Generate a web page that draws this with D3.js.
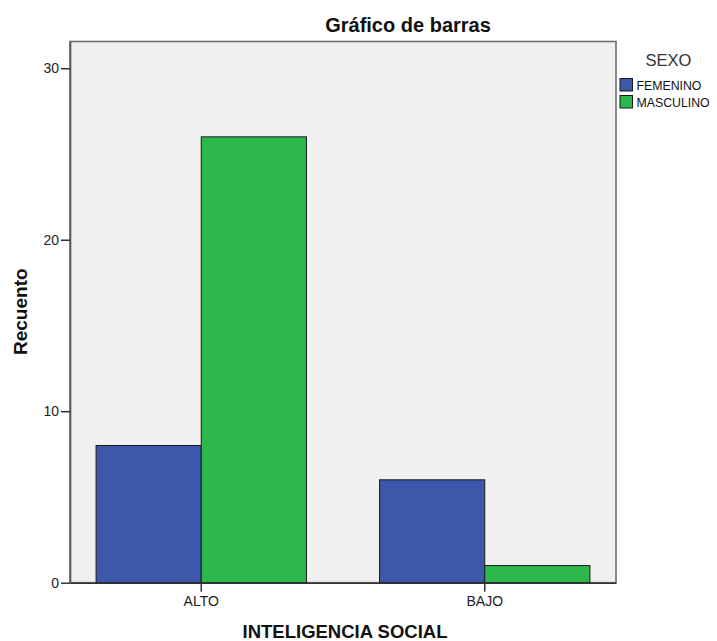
<!DOCTYPE html>
<html><head><meta charset="utf-8">
<script src="https://cdn.jsdelivr.net/npm/d3@7"></script>
<style>body{margin:0;background:#fff;} text{font-family:"Liberation Sans",Arial,sans-serif;}</style>
</head><body>
<svg id="c" width="717" height="641"></svg>
<script>
const categories = ["ALTO", "BAJO"];
const seriesNames = ["FEMENINO", "MASCULINO"];
const femenino = [8, 6];
const masculino = [26, 1];
const yTicks = [0, 10, 20, 30];
const colors = ["#3d57aa", "#2db84b"];

const svg = d3.select("#c");
const L = 70, R = 616, T = 41.5, B = 582.7;
const y = d3.scaleLinear().domain([0, 31.56]).range([B, T]);
const x0 = d3.scaleBand().domain(categories).range([L, R]).paddingInner(0.258).paddingOuter(0.092);
const x1 = d3.scaleBand().domain(seriesNames).range([0, x0.bandwidth()]);

svg.append("rect").attr("x", L).attr("y", T).attr("width", R - L).attr("height", B - T)
  .attr("fill", "#f0f0f0").attr("stroke", "#6e6e6e").attr("stroke-width", 1.6);

const data = categories.map((c, i) => ({cat: c, vals: [femenino[i], masculino[i]]}));
const g = svg.append("g");
data.forEach(d => {
  d.vals.forEach((v, j) => {
    g.append("rect")
      .attr("x", x0(d.cat) + x1(seriesNames[j]))
      .attr("y", y(v))
      .attr("width", x1.bandwidth())
      .attr("height", B - y(v))
      .attr("fill", colors[j])
      .attr("stroke", "#1a1a1a").attr("stroke-width", 1);
  });
});

// Y axis
const ya = svg.append("g").attr("transform", `translate(${L},0)`)
  .call(d3.axisLeft(y).tickValues(yTicks).tickSize(9).tickSizeOuter(0).tickPadding(2));
ya.select(".domain").attr("stroke", "#555").attr("stroke-width", 1.6);
ya.selectAll(".tick line").attr("stroke", "#333").attr("stroke-width", 1.5);
ya.selectAll("text").attr("font-size", 14).attr("fill", "#222").attr("font-family", "Liberation Sans, Arial, sans-serif");

// X axis
const xa = svg.append("g").attr("transform", `translate(0,${B})`)
  .call(d3.axisBottom(x0).tickSize(9).tickSizeOuter(0).tickPadding(4));
xa.select(".domain").attr("stroke", "#333").attr("stroke-width", 1.6);
xa.selectAll(".tick line").attr("stroke", "#333").attr("stroke-width", 1.5);
xa.selectAll("text").attr("font-size", 14).attr("fill", "#222").attr("font-family", "Liberation Sans, Arial, sans-serif");

// Title
svg.append("text").attr("x", 408).attr("y", 31.7).attr("text-anchor", "middle")
  .attr("font-size", 20).attr("font-weight", "bold").attr("fill", "#111").text("Gráfico de barras");
// X label
svg.append("text").attr("x", 345).attr("y", 638.3).attr("text-anchor", "middle")
  .attr("font-size", 18.5).attr("font-weight", "bold").attr("fill", "#111").text("INTELIGENCIA SOCIAL");
// Y label
svg.append("text").attr("transform", "translate(26.7,311.7) rotate(-90)").attr("text-anchor", "middle")
  .attr("font-size", 19).attr("font-weight", "bold").attr("fill", "#111").text("Recuento");

// Legend
const lg = svg.append("g");
lg.append("text").attr("x", 668.5).attr("y", 65.5).attr("text-anchor", "middle")
  .attr("font-size", 16.5).attr("fill", "#333").text("SEXO");
seriesNames.forEach((s, i) => {
  lg.append("rect").attr("x", 620).attr("y", 78.5 + i * 17).attr("width", 12.5).attr("height", 12.5)
    .attr("fill", colors[i]).attr("stroke", "#1a1a1a").attr("stroke-width", 1);
  lg.append("text").attr("x", 636.5).attr("y", 90 + i * 17)
    .attr("font-size", 12.3).attr("fill", "#111").text(s);
});
</script>
</body></html>
